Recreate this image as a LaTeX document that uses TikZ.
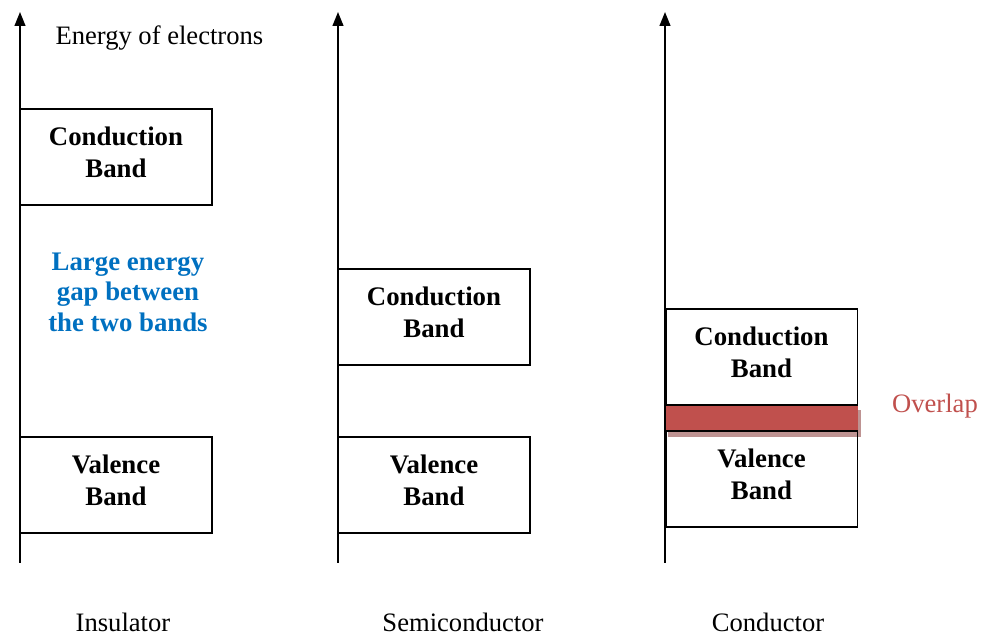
\documentclass[tikz,border=0pt]{standalone}
\usepackage{fontspec}
\setmainfont{Liberation Serif}
\usetikzlibrary{arrows.meta}
\definecolor{gapblue}{RGB}{0,112,192}
\definecolor{overlapred}{RGB}{192,80,77}
\tikzset{
  band/.style={draw, line width=0.9pt, minimum width=90.2pt, minimum height=45.1pt,
    inner sep=0pt, align=center, text depth=4.5pt, font=\fontsize{12.6}{14.6}\selectfont\bfseries},
  axis/.style={line width=0.9pt, -{Triangle[length=6.5pt,width=5pt]}}
}
\begin{document}
\begin{tikzpicture}[x=0.47pt, y=-0.47pt, every node/.style={font=\fontsize{12.5}{14.3}\selectfont}]
  \useasboundingbox (0,0) rectangle (981,636);
  % axes
  \coordinate (ia0) at (20,563);  \coordinate (ia1) at (20,12);
  \coordinate (sa0) at (338,563); \coordinate (sa1) at (338,12);
  \coordinate (ca0) at (665,563); \coordinate (ca1) at (665,12);
  % overlap strip (drawn first, boxes go on top)
  \fill[overlapred!55!gray!70] (668,410) rectangle (861,437);
  \fill[overlapred] (665,405) rectangle (858,431);
  \draw
    (116,157) node[band] (icb) {Conduction\\Band}
    (116,485) node[band] (ivb) {Valence\\Band}
    (434,317) node[band] (scb) {Conduction\\Band}
    (434,485) node[band] (svb) {Valence\\Band}
    (761.5,357) node[band] (ccb) {Conduction\\Band}
    (761.5,479) node[band] (cvb) {Valence\\Band};
  \begin{scope}[axis]
    \draw (ia0) -- (ia1);
    \draw (sa0) -- (sa1);
    \draw (ca0) -- (ca1);
  \end{scope}
  \node[anchor=west] (energy) at (48,38) {Energy of electrons};
  \node[text=gapblue, align=center, font=\fontsize{12.6}{14.3}\selectfont\bfseries] (gap) at (128,292)
    {Large energy\\gap between\\the two bands};
  \node[text=overlapred] (overlap) at (935,406) {Overlap};
  \node (ins) at (123,622) {Insulator};
  \node (semi) at (463,622) {Semiconductor};
  \node (cond) at (768,622) {Conductor};
\end{tikzpicture}
\end{document}
